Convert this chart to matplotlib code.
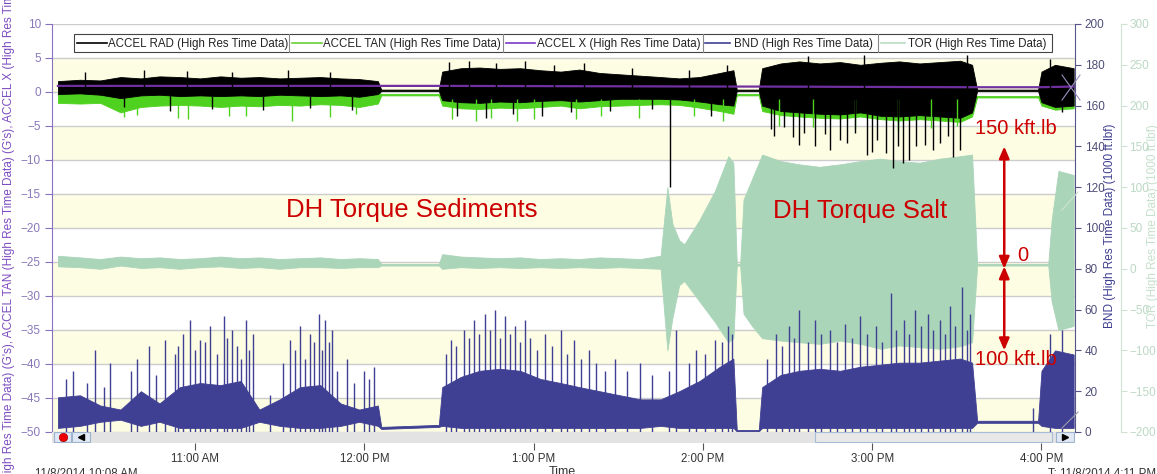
import matplotlib
matplotlib.use("Agg")
import matplotlib.pyplot as plt
from matplotlib.patches import Rectangle
from matplotlib.lines import Line2D

plt.rcParams['font.family'] = ['Liberation Sans', 'DejaVu Sans']

# ---- data (time in decimal hours) ----
knot_t = [10.19, 10.32, 10.44, 10.56, 10.68, 10.79, 10.91, 11.03, 11.15, 11.27, 11.38, 11.50,
          11.62, 11.74, 11.86, 11.97, 12.08,
          12.10, 12.44,
          12.46, 12.57, 12.68, 12.80, 12.92, 13.04, 13.16, 13.27, 13.39, 13.51, 13.63, 13.75,
          13.86, 13.98, 14.10, 14.18,
          14.20, 14.33,
          14.35, 14.46, 14.57, 14.69, 14.81, 14.93, 15.05, 15.16, 15.28, 15.40, 15.52, 15.59,
          15.62, 15.98,
          16.00, 16.08, 16.19]

# ACCEL RAD (G's), envelope
rad_hi = [1.6, 1.8, 1.7, 2.2, 2.0, 2.3, 2.2, 2.0, 2.3, 2.1, 2.2, 2.0, 2.1, 2.2, 2.0, 1.9, 1.6,
          0.35, 0.35,
          3.0, 3.5, 3.6, 3.4, 3.5, 3.2, 3.0, 3.3, 2.8, 2.6, 2.4, 2.2, 2.0, 2.2, 2.8, 3.2,
          0.35, 0.35,
          3.5, 4.2, 4.5, 4.2, 4.4, 4.0, 4.3, 4.5, 4.2, 4.4, 4.6, 4.0,
          0.35, 0.35,
          3.0, 4.0, 3.5]
rad_lo = [-0.3, -0.2, -0.4, -0.9, -0.5, -0.4, -0.6, -0.5, -0.6, -0.5, -0.6, -0.4, -0.5, -0.6, -0.5, -0.7, -0.3,
          0.15, 0.15,
          -1.2, -1.5, -1.6, -1.4, -1.5, -1.3, -1.2, -1.4, -1.2, -1.0, -1.0, -1.0, -1.1, -1.4, -1.8, -2.0,
          0.15, 0.15,
          -2.0, -2.8, -3.0, -3.2, -3.3, -3.0, -3.5, -3.6, -3.4, -3.6, -3.8, -3.0,
          0.15, 0.15,
          -1.5, -2.2, -2.0]
rad_spike_t = [10.35, 10.58, 10.70, 10.85, 10.95, 11.10, 11.22, 11.40, 11.55, 11.68, 11.80, 11.93,
               12.50, 12.55, 12.62, 12.72, 12.78, 12.88, 12.95, 13.05, 13.12, 13.22, 13.30, 13.45,
               13.58, 13.70, 13.806, 13.92, 14.05, 14.14,
               14.40, 14.53, 14.57, 14.62, 14.75, 14.81, 14.95, 14.97, 15.03, 15.12, 15.22, 15.31,
               15.36, 15.45, 15.52, 15.56, 16.05, 16.12,
               14.42, 14.48, 14.60, 14.66, 14.72, 14.85, 14.90, 15.00, 15.08, 15.15, 15.18, 15.26,
               15.40, 15.48]
rad_spike_v = [3.0, -2.2, 3.2, -2.8, 3.1, -2.5, 3.0, -2.6, 3.2, -2.4, 3.0, -2.6,
               4.4, -3.5, 4.6, -3.8, 4.2, -3.2, 4.5, -3.6, 4.0, -3.0, 4.2, -2.8,
               3.5, -2.5, -14.0, 3.2, -3.5, 4.0,
               -5.5, -6.6, -7.8, 5.3, -8.5, -7.1, 5.5, -9.3, -7.1, -11.2, -10.0, -7.8,
               -8.5, -6.5, -8.5, 5.4, 4.8, -3.0,
               -6.5, -5.2, -6.0, -8.0, -6.2, -7.5, -6.0, -8.8, -9.0, -8.0, -10.5, -8.0,
               -7.5, -9.5]

# ACCEL TAN (G's), envelope
tan_hi = [0.1, 0.0, 0.1, -0.2, 0.0, 0.2, 0.1, 0.0, 0.2, 0.1, 0.0, 0.1, 0.0, 0.2, 0.1, 0.0, 0.1,
          -0.3, -0.3,
          -0.3, -0.4, -0.5, -0.4, -0.3, -0.4, -0.3, -0.5, -0.4, -0.3, -0.3, -0.2, -0.3, -0.4, -0.5, -0.5,
          -0.3, -0.3,
          -0.6, -0.8, -0.8, -0.7, -0.9, -0.8, -0.9, -0.8, -0.9, -0.8, -0.9, -0.7,
          -0.6, -0.6,
          -0.5, -0.6, -0.6]
tan_lo = [-1.6, -1.7, -1.6, -3.0, -2.2, -2.0, -1.9, -2.0, -2.2, -2.0, -2.1, -1.9, -2.0, -1.8, -1.9, -2.2, -1.7,
          -0.5, -0.5,
          -2.0, -2.4, -2.5, -2.3, -2.4, -2.2, -2.0, -2.4, -2.1, -2.0, -1.9, -1.8, -1.9, -2.3, -2.8, -3.2,
          -0.5, -0.5,
          -2.8, -3.4, -3.6, -3.8, -3.9, -3.6, -4.0, -4.2, -4.0, -4.2, -4.4, -3.6,
          -0.8, -0.8,
          -2.0, -2.6, -2.4]
tan_spike_t = [10.58, 10.66, 10.90, 10.96, 11.20, 11.30, 11.57, 11.80, 11.95,
               12.52, 12.66, 12.75, 12.90, 13.00, 13.25, 13.40, 13.62, 13.95, 14.12,
               14.45, 14.65, 14.90, 15.15, 15.35, 15.50]
tan_spike_v = [-3.7, -3.4, -3.8, -4.0, -3.6, -3.5, -4.2, -3.7, -3.3,
               -4.0, -4.3, -3.8, -4.2, -3.9, -4.0, -3.6, -3.8, -3.5, -4.2,
               -5.0, -5.2, -5.5, -5.6, -5.3, -5.0]

# ACCEL X (G's)
accx_t = [10.19, 12.10, 12.44, 14.20, 14.33, 15.62, 15.98, 16.19]
accx_v = [0.9, 0.9, 0.9, 0.8, 0.8, 0.7, 0.7, 0.8]

# BND (1000 ft.lbf), envelope
bnd_hi = [17, 18, 13, 11, 20, 14, 22, 24, 23, 25, 11, 16, 22, 23, 14, 11, 13,
          2.5, 3.5,
          22, 27, 30, 31, 30, 26, 24, 22, 20, 18, 16, 16, 20, 25, 32, 36,
          1.0, 1.0,
          22, 28, 30, 31, 30, 32, 33, 34, 34, 35, 36, 34,
          5.5, 5.5,
          30, 40, 38]
bnd_lo = [2, 3, 5, 6, 3, 5, 2, 2, 2, 2, 5, 3, 2, 2, 3, 5, 3,
          1.5, 2.5,
          3, 2, 2, 2, 2, 2, 2, 2, 2, 2, 2, 3, 2, 2, 2, 2,
          0.3, 0.3,
          2, 2, 2, 2, 2, 2, 2, 2, 2, 2, 2, 2,
          4.5, 4.5,
          3, 2, 2]
bnd_spike_t = [10.41, 10.50, 10.73, 10.82, 10.93, 10.97, 11.03, 11.09, 11.17, 11.22, 11.30, 11.34,
               11.56, 11.62, 11.68, 11.73, 11.77, 11.81, 11.90, 12.00, 12.06,
               12.51, 12.59, 12.65, 12.71, 12.77, 12.83, 12.89, 12.95, 13.07, 13.16, 13.24, 13.33,
               13.48, 13.63, 13.84, 14.07, 14.15,
               14.43, 14.51, 14.57, 14.66, 14.75, 14.84, 14.93, 15.02, 15.11, 15.19, 15.25, 15.33,
               15.40, 15.46, 15.53, 15.58, 15.95, 16.05, 16.12,
               10.24, 10.28, 10.36, 10.46, 10.62, 10.66, 10.77, 10.88, 10.90, 11.00, 11.06, 11.13,
               11.19, 11.25, 11.27, 11.32, 11.44, 11.52, 11.59, 11.65, 11.70, 11.75, 11.79, 11.84,
               11.94, 12.03,
               12.48, 12.54, 12.62, 12.68, 12.74, 12.80, 12.86, 12.92, 12.98, 13.02, 13.11, 13.20,
               13.28, 13.37, 13.42, 13.55, 13.70, 13.80, 13.92, 13.96, 14.01, 14.11, 14.17,
               14.38, 14.47, 14.54, 14.62, 14.70, 14.79, 14.88, 14.97, 15.06, 15.14, 15.22, 15.29,
               15.36, 15.43, 15.49, 15.56]
bnd_spike_v = [40, 34, 42, 45, 48, 55, 45, 52, 57, 50, 55, 48,
               45, 52, 48, 58, 55, 50, 36, 30, 32,
               45, 50, 55, 58, 60, 57, 52, 55, 48, 50, 45, 40,
               36, 34, 50, 45, 52,
               48, 52, 60, 55, 50, 53, 57, 52, 68, 55, 60, 58,
               55, 62, 71, 58, 12, 48, 50,
               26, 30, 24, 22, 30, 36, 28, 38, 42, 40, 44, 38,
               46, 42, 36, 40, 18, 34, 40, 36, 44, 40, 44, 30,
               24, 26,
               38, 42, 46, 48, 50, 46, 48, 44, 46, 40, 42, 38,
               36, 34, 30, 30, 28, 30, 34, 40, 38, 44, 48,
               36, 42, 46, 44, 48, 44, 46, 48, 44, 50, 48, 52,
               50, 48, 52, 50]

# TOR (1000 ft.lbf), envelope
tor_t = [10.19, 10.32, 10.44, 10.56, 10.68, 10.79, 10.91, 11.03, 11.15, 11.27, 11.38, 11.50,
         11.62, 11.74, 11.86, 11.97, 12.08,
         12.10, 12.44,
         12.46, 12.57, 12.68, 12.80, 12.92, 13.04, 13.16, 13.27, 13.39, 13.51, 13.63, 13.75,
         13.79, 13.82, 13.86, 13.89, 13.98, 14.07, 14.15, 14.18,
         14.20, 14.22,
         14.24, 14.29, 14.35, 14.46, 14.57, 14.69, 14.81, 14.93, 15.05, 15.16, 15.28, 15.40, 15.52, 15.59,
         15.62, 16.04,
         16.06, 16.10, 16.19]
tor_hi = [16, 14, 12, 15, 13, 14, 12, 13, 15, 13, 14, 12, 13, 14, 12, 13, 12,
          6, 6,
          18, 15, 14, 13, 14, 12, 13, 12, 14, 13, 12, 16,
          100, 55, 35, 30, 60, 95, 138, 130,
          6, 6,
          85, 110, 140, 132, 128, 125, 128, 132, 135, 132, 130, 135, 138, 140,
          6, 6,
          60, 120, 115]
tor_lo = [3, 2, 0, 4, 1, 2, 0, 2, 3, 1, 2, 0, 2, 2, 1, 2, 2,
          4, 4,
          0, 2, 1, 2, 1, 2, 1, 2, 1, 2, 1, 0,
          -100, -60, -20, -15, -40, -65, -90, -85,
          4, 4,
          -55, -70, -85, -88, -90, -92, -88, -92, -98, -94, -96, -98, -95, -90,
          4, 4,
          -40, -75, -70]

hour_ticks = [11, 12, 13, 14, 15, 16]
hour_labels = ['11:00 AM', '12:00 PM', '1:00 PM', '2:00 PM', '3:00 PM', '4:00 PM']
legend_names = ['ACCEL RAD (High Res Time Data)', 'ACCEL TAN (High Res Time Data)',
                'ACCEL X (High Res Time Data)', 'BND (High Res Time Data)',
                'TOR (High Res Time Data)']

# ---- styling ----
C_RAD = '#000000'
C_TAN = '#4fd11f'
C_X = '#7030a0'
C_BND = '#3f3f93'
C_TOR = '#abd5b9'
C_BAND = '#fdfde4'
C_GRID = '#cccccc'
C_RED = '#cc0000'

W, H = 1157, 474


def fx(x):
    return x / W


def fy(y):
    return 1 - y / H


fig = plt.figure(figsize=(W / 100, H / 100), dpi=100)
pos = [fx(52), fy(432), fx(1075) - fx(52), fy(24) - fy(432)]
xmin, xmax = 10.155, 16.198

# background bands + grid
ax_bg = fig.add_axes(pos, zorder=0)
ax_bg.set_xlim(xmin, xmax)
ax_bg.set_ylim(-50, 10)
for lo in [0, -10, -20, -30, -40, -50]:
    ax_bg.axhspan(lo, lo + 5, color=C_BAND, lw=0)
for v in range(-50, 11, 5):
    ax_bg.axhline(v, color=C_GRID, lw=1)
ax_bg.axis('off')

# TOR axis (back)
ax_t = fig.add_axes(pos, zorder=1, sharex=ax_bg)
ax_t.patch.set_visible(False)
ax_t.fill_between(tor_t, tor_lo, tor_hi, color=C_TOR, lw=0.6)
ax_t.set_ylim(-200, 300)
ax_t.yaxis.tick_right()
ax_t.set_yticks(range(-200, 301, 50))
ax_t.spines['right'].set_position(('outward', 33))
ax_t.spines['right'].set_color('#cfe3d3')
for s in ['left', 'top', 'bottom']:
    ax_t.spines[s].set_visible(False)
ax_t.tick_params(axis='y', colors='#cfe3d3', labelcolor='#bcd9c4', labelsize=8.5, length=4, pad=2)
ax_t.tick_params(axis='x', bottom=False, labelbottom=False)
# torque range arrows
ax_t.annotate('', xy=(15.78, 150), xytext=(15.78, 0),
              arrowprops=dict(arrowstyle='<|-|>,head_length=0.7,head_width=0.3', color=C_RED, lw=1.8,
                              shrinkA=0, shrinkB=0))
ax_t.annotate('', xy=(15.78, -100), xytext=(15.78, 3),
              arrowprops=dict(arrowstyle='<|-|>,head_length=0.7,head_width=0.3', color=C_RED, lw=1.8,
                              shrinkA=0, shrinkB=0))

# BND axis
ax_b = fig.add_axes(pos, zorder=2, sharex=ax_bg)
ax_b.patch.set_visible(False)
ax_b.fill_between(knot_t, bnd_lo, bnd_hi, color=C_BND, lw=0.6)
ax_b.vlines(bnd_spike_t, 0, bnd_spike_v, color=C_BND, lw=1.0)
ax_b.set_ylim(0, 200)
ax_b.yaxis.tick_right()
ax_b.set_yticks(range(0, 201, 20))
ax_b.spines['right'].set_color('#55558a')
for s in ['left', 'top', 'bottom']:
    ax_b.spines[s].set_visible(False)
ax_b.tick_params(axis='y', colors='#55558a', labelcolor='#4e4e78', labelsize=8.5, length=4, pad=3)
ax_b.tick_params(axis='x', bottom=False, labelbottom=False)

# ACCEL axis (front)
ax = fig.add_axes(pos, zorder=3, sharex=ax_bg)
ax.patch.set_visible(False)
ax.plot(accx_t, accx_v, color=C_X, lw=1.6)
ax.fill_between(knot_t, tan_lo, tan_hi, color=C_TAN, lw=0.6)
ax.vlines(tan_spike_t, -1, tan_spike_v, color=C_TAN, lw=1.0)
ax.fill_between(knot_t, rad_lo, rad_hi, color=C_RAD, lw=0.6)
ax.vlines(rad_spike_t, 0, rad_spike_v, color=C_RAD, lw=1.0)
ax.set_ylim(-50, 10)
ax.set_xlim(xmin, xmax)
ax.set_yticks(range(-50, 11, 5))
ax.set_xticks(hour_ticks)
ax.set_xticklabels(hour_labels)
ax.spines['left'].set_color('#8a70c0')
for s in ['right', 'top']:
    ax.spines[s].set_visible(False)
ax.spines['bottom'].set_position(('outward', 8))
ax.spines['bottom'].set_visible(False)
ax.tick_params(axis='y', colors='#8a70c0', labelcolor='#8878b8', labelsize=8.5, length=5, pad=3)
ax.tick_params(axis='x', colors='#555555', labelcolor='#333333', labelsize=8.3, length=5, pad=2)

ax.text(12.28, -17.4, 'DH Torque Sediments', color=C_RED, fontsize=18.5, ha='center', va='center')
ax.text(14.93, -17.5, 'DH Torque Salt', color=C_RED, fontsize=18.5, ha='center', va='center')
ax.text(15.85, -5.3, '150 kft.lb', color=C_RED, fontsize=14.5, ha='center', va='center')
ax.text(15.89, -24.0, '0', color=C_RED, fontsize=14.5, ha='center', va='center')
ax.text(15.85, -39.4, '100 kft.lb', color=C_RED, fontsize=14.5, ha='center', va='center')

# cursor crosses next to the right axis
for (x0, y0, x1, y1), col in [((1062, 75, 1080, 100), '#9a90c0'), ((1062, 100, 1080, 75), '#9a90c0'),
                              ((1062, 210, 1078, 192), '#cfe3d3'), ((1062, 428, 1078, 412), '#9a9aa8')]:
    fig.add_artist(Line2D([fx(x0), fx(x1)], [fy(y0), fy(y1)], transform=fig.transFigure,
                          color=col, lw=0.8, zorder=6))

# axis titles
fig.text(fx(9), fy(241), "ACCEL RAD (High Res Time Data) (G's), ACCEL TAN (High Res Time Data) (G's), "
         "ACCEL X (High Res Time Data) (G's)", rotation=90, ha='center', va='center',
         fontsize=8.5, color='#7d4cc0')
fig.text(fx(1110), fy(226), 'BND (High Res Time Data) (1000 ft.lbf)', rotation=90,
         ha='center', va='center', fontsize=8.5, color='#3e3e90')
fig.text(fx(1153), fy(226), 'TOR (High Res Time Data) (1000 ft.lbf)', rotation=90,
         ha='center', va='center', fontsize=8.5, color='#c5e0cb')

# scrollbar strip under the plot
ax_sb = fig.add_axes([fx(52), fy(443), fx(1075) - fx(52), (443 - 432) / H], zorder=4)
ax_sb.set_xlim(52, 1075)
ax_sb.set_ylim(443, 432)
ax_sb.axis('off')
ax_sb.add_patch(Rectangle((52, 432), 1023, 11, facecolor='#e3e3e3', edgecolor='none'))
ax_sb.add_patch(Rectangle((815, 432.5), 237, 10, facecolor='#e8e8e8', edgecolor='#a8bcd8', lw=0.8))
ax_sb.add_patch(Rectangle((54, 432.5), 17, 10, facecolor='#dfe8f4', edgecolor='#9fb3cf', lw=0.8))
ax_sb.add_patch(Rectangle((72, 432.5), 18, 10, facecolor='#dfe8f4', edgecolor='#9fb3cf', lw=0.8))
ax_sb.add_patch(Rectangle((1056, 432.5), 18, 10, facecolor='#dfe8f4', edgecolor='#9fb3cf', lw=0.8))
ax_sb.plot([62.5], [437.5], marker='o', ms=6, color='#ee0000', mec='#aa0000', mew=0.5)
ax_sb.plot([81], [437.5], marker='<', ms=5, color='black')
ax_sb.plot([1065], [437.5], marker='>', ms=5, color='black')

# legend drawn as a strip of boxed entries
legend_box = Rectangle((fx(74), fy(52)), fx(1052) - fx(74), fy(34) - fy(52), transform=fig.transFigure,
                       facecolor='white', edgecolor='#444444', lw=0.8, zorder=10)
fig.add_artist(legend_box)
leg_line_x = [(77, 107), (292, 322), (506, 535), (705, 730), (881, 905)]
leg_text_x = [108, 323, 537, 734, 908]
leg_sep_x = [289, 503, 703, 878]
leg_colors = [C_RAD, '#66d13a', '#7a3ac8', C_BND, '#b8dcc4']
for (x0, x1), tx, col, name in zip(leg_line_x, leg_text_x, leg_colors, legend_names):
    fig.add_artist(Line2D([fx(x0), fx(x1)], [fy(43), fy(43)], transform=fig.transFigure,
                          color=col, lw=1.2, zorder=11))
    fig.text(fx(tx), fy(43.5), name, fontsize=8.3, color='#222222', ha='left', va='center', zorder=11)
for sx in leg_sep_x:
    fig.add_artist(Line2D([fx(sx), fx(sx)], [fy(34), fy(52)], transform=fig.transFigure,
                          color='#888888', lw=0.8, zorder=11))

# footer texts (clipped by the figure edge as in the original)
fig.text(fx(35), fy(468), '11/8/2014 10:08 AM', fontsize=8.3, color='#333333', ha='left', va='top')
fig.text(fx(562), fy(466), 'Time', fontsize=9, color='#333333', ha='center', va='top')
fig.text(fx(1048), fy(468), 'T: 11/8/2014 4:11 PM', fontsize=8.3, color='#333333', ha='left', va='top')

fig.savefig('out.png', dpi=100)
